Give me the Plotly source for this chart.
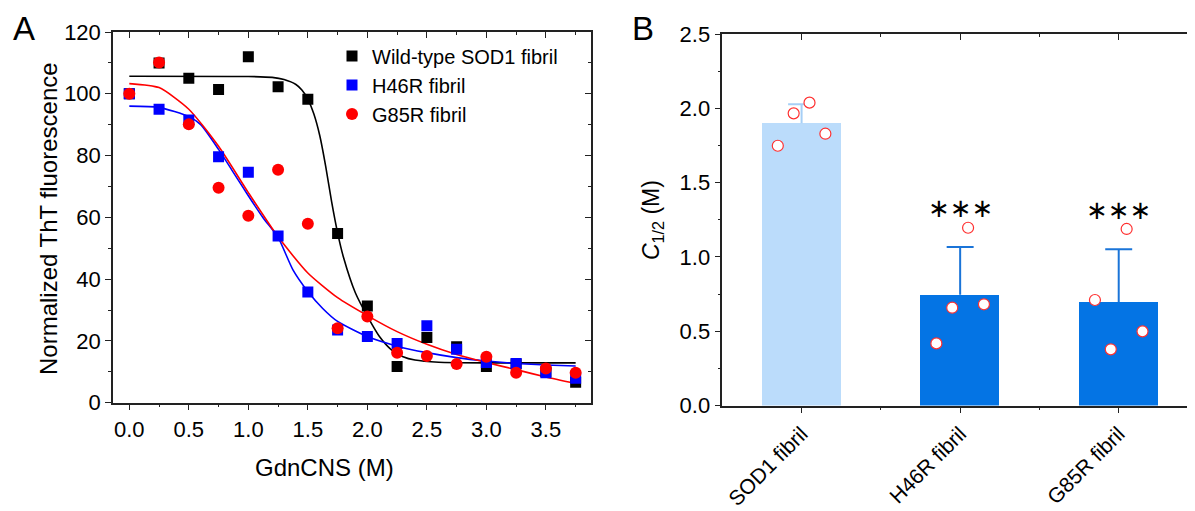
import plotly.graph_objects as go

# ---- panel A data ----
gdn = [0, 0.25, 0.5, 0.75, 1.0, 1.25, 1.5, 1.75, 2.0, 2.25, 2.5, 2.75, 3.0, 3.25, 3.5, 3.75]
wt_vals = [100, 110, 105.0, 101.4, 112.0, 102.3, 98.2, 54.8, 31.3, 11.7, 21.1, 18.1, 11.7, 12.5, 10.0, 6.6]
h46r_vals = [100, 95.0, 91.5, 79.6, 74.6, 54.0, 35.8, 23.5, 21.4, 19.2, 24.9, 17.3, 13.0, 12.7, 9.7, 7.9]
g85r_vals = [100, 110.1, 90.1, 69.6, 60.5, 75.4, 57.9, 24.1, 27.9, 16.2, 15.1, 12.5, 14.9, 9.7, 11.1, 9.7]

wt_fit_x = [0, 1.0, 1.2, 1.3, 1.4, 1.45, 1.5, 1.55, 1.6, 1.65, 1.7, 1.75, 1.8, 1.9, 2.0, 2.1, 2.2, 2.3, 2.4, 2.6, 3.0, 3.75]
wt_fit_y = [105.7, 105.6, 105.3, 104.6, 103.0, 101.2, 98.3, 93.5, 86.5, 76.5, 65.0, 55.0, 47.0, 35.5, 28.0, 21.5, 17.2, 14.9, 13.8, 13.1, 12.9, 12.9]
h46r_fit_x = [0, 0.25, 0.5, 0.6, 0.75, 0.875, 1.0, 1.125, 1.25, 1.375, 1.5, 1.625, 1.75, 2.0, 2.25, 2.5, 2.75, 3.0, 3.25, 3.5, 3.75]
h46r_fit_y = [96.0, 95.6, 92.6, 90.0, 82.0, 74.5, 67.0, 59.8, 53.5, 43.0, 36.0, 30.5, 26.3, 21.4, 18.3, 16.2, 14.6, 13.5, 12.7, 12.2, 11.9]
g85r_fit_x = [0, 0.25, 0.5, 0.75, 1.0, 1.25, 1.5, 1.75, 2.0, 2.25, 2.5, 2.75, 3.0, 3.25, 3.5, 3.75]
g85r_fit_y = [103.3, 102.0, 95.0, 83.0, 68.0, 53.7, 42.0, 34.0, 28.2, 23.0, 18.9, 15.6, 13.0, 10.7, 8.3, 6.2]

# ---- panel B data ----
groups = ["SOD1 fibril", "H46R fibril", "G85R fibril"]
c_half_mean = [1.90, 0.745, 0.695]
c_half_err = [0.128, 0.322, 0.357]
c_half_reps = [
    [1.748, 1.966, 2.038, 1.829],
    [0.418, 0.658, 1.196, 0.681],
    [0.710, 0.378, 1.188, 0.499],
]
sig_marks = ["", "∗∗∗", "∗∗∗"]

W, H = 1195, 511
OFF = 8  # page body margin

FONT = "Arial, Liberation Sans, sans-serif"
AX = "#222"
BAR_COLORS = ["#BBDCFB", "#0474E4", "#0474E4"]
ERR_COLORS = ["#A6CFF6", "#1A74D8", "#1A74D8"]
JITTER = [-0.15, -0.05, 0.05, 0.15]
CAP = 0.085  # half cap width, category units


def fx(px):
    return (px - OFF) / W


def fy(py):
    return 1 - (py - OFF) / H


fig = go.Figure()

# panel A: fits then points
for xs, ys, col in [(wt_fit_x, wt_fit_y, "black"), (h46r_fit_x, h46r_fit_y, "#0000FF"),
                    (g85r_fit_x, g85r_fit_y, "#FF0000")]:
    fig.add_trace(go.Scatter(x=xs, y=ys, mode="lines", line=dict(color=col, width=1.6, shape="spline", smoothing=0.6),
                             showlegend=False, hoverinfo="skip", xaxis="x", yaxis="y"))

for vals, name, col, sym in [(wt_vals, "Wild-type SOD1 fibril", "black", "square"),
                             (h46r_vals, "H46R fibril", "#0000FF", "square"),
                             (g85r_vals, "G85R fibril", "#FF0000", "circle")]:
    fig.add_trace(go.Scatter(x=gdn, y=vals, mode="markers", name=name,
                             marker=dict(color=col, symbol=sym, size=11 if sym == "square" else 12, line=dict(width=0)),
                             xaxis="x", yaxis="y"))

# dummy traces so the mirrored (inside-tick) axes get drawn
fig.add_trace(go.Scatter(x=[None], y=[None], xaxis="x3", yaxis="y3", showlegend=False, hoverinfo="skip"))
fig.add_trace(go.Scatter(x=[None], y=[None], xaxis="x4", yaxis="y4", showlegend=False, hoverinfo="skip"))

# panel B: bars, one-sided error bars, replicate points
for i, g in enumerate(groups):
    m, e = c_half_mean[i], c_half_err[i]
    fig.add_trace(go.Bar(
        x=[i], y=[m], width=0.5,
        marker=dict(color=BAR_COLORS[i], line=dict(width=0)),
        showlegend=False, hoverinfo="skip", xaxis="x2", yaxis="y2"))
    fig.add_trace(go.Scatter(
        x=[i, i, None, i - CAP, i + CAP], y=[m, m + e, None, m + e, m + e], mode="lines",
        line=dict(color=ERR_COLORS[i], width=2),
        showlegend=False, hoverinfo="skip", xaxis="x2", yaxis="y2"))
    fig.add_trace(go.Scatter(
        x=[i + j for j in JITTER], y=c_half_reps[i], mode="markers",
        marker=dict(color="white", size=11, line=dict(color="#FF3030", width=1.2)),
        showlegend=False, hoverinfo="skip", xaxis="x2", yaxis="y2"))

annotations = []
for i, s in enumerate(sig_marks):
    if s:
        annotations.append(dict(x=i, y=c_half_mean[i] + c_half_err[i] + 0.265, xref="x2", yref="y2",
                                xanchor="center", yanchor="middle",
                                text=s, showarrow=False, font=dict(family="DejaVu Sans", size=26, color="black")))


def paper_text(text, px, py, size, angle=0, yanchor="middle"):
    return dict(text=text, x=fx(px), y=fy(py), xref="paper", yref="paper", showarrow=False,
                xanchor="center", yanchor=yanchor, textangle=angle,
                font=dict(family=FONT, size=size, color="black"))


annotations += [
    paper_text("A", 23.5, 8, 33, yanchor="top"),
    paper_text("B", 643, 8, 33, yanchor="top"),
    paper_text("GdnCNS (M)", 324, 467, 24),
    paper_text("Normalized ThT fluorescence", 48, 219, 24, -90),
    paper_text("<i>C</i><sub>1/2</sub> (M)", 652, 220, 23, -90),
]

tickfont = dict(family=FONT, size=22, color="black")
catfont = dict(family=FONT, size=21, color="black")
axline = dict(showline=True, linecolor=AX, linewidth=1.5, showgrid=False, zeroline=False, automargin=False)

dom_ax = [fx(113), fx(591)]
dom_ay = [fy(402.7), fy(32)]
dom_bx = [fx(722.3), fx(1198)]
dom_by = [fy(405.5), fy(34)]
ra_x = [-0.137, 3.879]
ra_y = [0, 120]
rb_x = [-0.5, 2.5]
rb_y = [0, 2.5]

fig.update_layout(
    width=W, height=H,
    margin=dict(l=0, r=0, t=0, b=0),
    paper_bgcolor="white", plot_bgcolor="white",
    font=dict(family=FONT, color="black"),
    bargap=0,
    xaxis=dict(domain=dom_ax, range=ra_x, anchor="y", tick0=0, dtick=0.5, tickformat=".1f",
               ticks="outside", ticklen=6, tickwidth=1.3, tickcolor=AX, tickfont=tickfont,
               minor=dict(dtick=0.25, ticks="outside", ticklen=3, tickcolor=AX), **axline),
    yaxis=dict(domain=dom_ay, range=ra_y, anchor="x", dtick=20,
               ticks="outside", ticklen=6, tickwidth=1.3, tickcolor=AX, tickfont=tickfont,
               minor=dict(dtick=10, ticks="outside", ticklen=3, tickcolor=AX), **axline),
    xaxis3=dict(overlaying="x", side="top", anchor="y", range=ra_x, tick0=0, dtick=0.5,
                ticks="inside", ticklen=6, tickwidth=1.3, tickcolor=AX, showticklabels=False,
                minor=dict(dtick=0.25, ticks="inside", ticklen=3, tickcolor=AX), **axline),
    yaxis3=dict(overlaying="y", side="right", anchor="x", range=ra_y, dtick=20,
                ticks="inside", ticklen=6, tickwidth=1.3, tickcolor=AX, showticklabels=False,
                minor=dict(dtick=10, ticks="inside", ticklen=3, tickcolor=AX), **axline),
    xaxis2=dict(domain=dom_bx, range=rb_x, anchor="y2", tickmode="array", tickvals=[0, 1, 2],
                ticktext=groups, tickangle=-45, ticks="outside", ticklen=6, tickwidth=1.3, tickcolor=AX,
                tickfont=catfont,
                minor=dict(tickmode="array", tickvals=[0.5, 1.5], ticks="outside", ticklen=3, tickcolor=AX),
                **axline),
    yaxis2=dict(domain=dom_by, range=rb_y, anchor="x2", dtick=0.5, tickformat=".1f",
                ticks="outside", ticklen=6, tickwidth=1.3, tickcolor=AX, tickfont=tickfont,
                minor=dict(dtick=0.25, ticks="outside", ticklen=3, tickcolor=AX), **axline),
    xaxis4=dict(overlaying="x2", side="top", anchor="y2", range=rb_x, tickmode="array", tickvals=[0, 1, 2],
                ticks="inside", ticklen=6, tickwidth=1.3, tickcolor=AX, showticklabels=False,
                minor=dict(tickmode="array", tickvals=[0.5, 1.5], ticks="inside", ticklen=3, tickcolor=AX),
                **axline),
    yaxis4=dict(overlaying="y2", side="right", anchor="x2", range=rb_y, dtick=0.5,
                ticks="inside", ticklen=6, tickwidth=1.3, tickcolor=AX, showticklabels=False,
                minor=dict(dtick=0.25, ticks="inside", ticklen=3, tickcolor=AX), **axline),
    legend=dict(x=fx(332), y=fy(36.5), xanchor="left", yanchor="top",
                bgcolor="rgba(0,0,0,0)", font=dict(family=FONT, size=20, color="black"),
                tracegroupgap=0, itemsizing="trace"),
    annotations=annotations,
)

fig.write_html("out.html")
